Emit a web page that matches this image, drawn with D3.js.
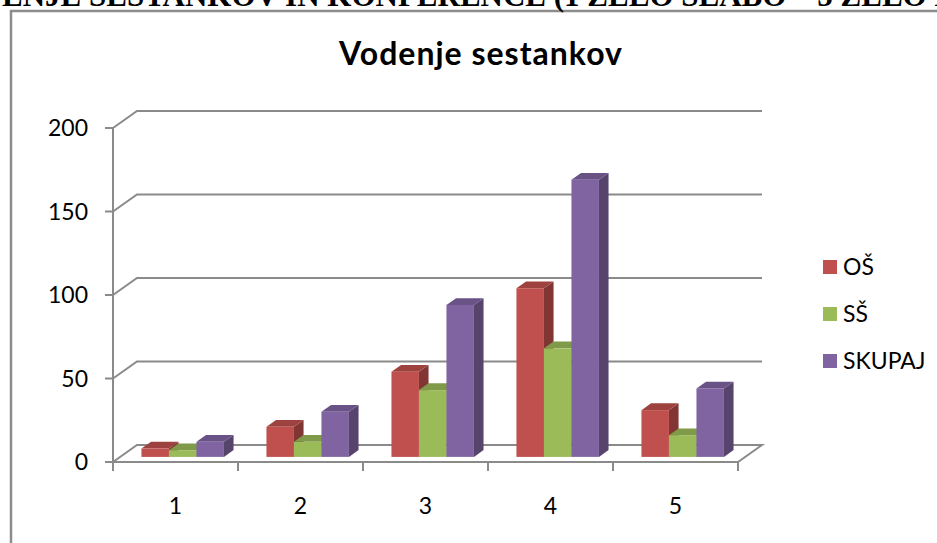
<!DOCTYPE html>
<html><head><meta charset="utf-8">
<script src="https://cdn.jsdelivr.net/npm/d3@7"></script>
<style>html,body{margin:0;padding:0;background:#fff;overflow:hidden}</style>
</head><body>
<svg id="c" width="937" height="543"></svg>
<script>
const pageHeading = "VODENJE SESTANKOV IN KONFERENCE (1 ZELO SLABO – 5 ZELO DOBRO)";
const title = "Vodenje sestankov";
const categories = ["1","2","3","4","5"];
const seriesNames = ["OŠ","SŠ","SKUPAJ"];
const valuesOS = [5, 18, 51, 101, 28];
const valuesSS = [4, 9, 40, 65, 13];
const valuesSkupaj = [9, 27, 91, 166, 41];
const yTicks = [0, 50, 100, 150, 200];
const colors = ["#C0504D", "#9BBB59", "#8064A2"];

const series = [valuesOS, valuesSS, valuesSkupaj];
const svg = d3.select("#c");
const font = "Lato, 'Open Sans', sans-serif";

// frame
svg.append("rect").attr("x",11).attr("y",11).attr("width",960).attr("height",560)
  .attr("fill","none").attr("stroke","#8c8c8c").attr("stroke-width",2.5);

// cut-off heading
const hs = 31;
const tmp = svg.append("text").attr("font-family","'Liberation Serif', serif").attr("font-weight","bold")
  .attr("font-size",hs).text("VOD");
const w0 = tmp.node().getComputedTextLength(); tmp.remove();
svg.append("text").attr("x",-w0+2).attr("y",6).attr("font-family","'Liberation Serif', serif")
  .attr("font-weight","bold").attr("font-size",hs).attr("fill","#000").text(pageHeading);

// geometry
const X0 = 113, X1 = 738;
const DX = 24, DY = -17;
const y = d3.scaleLinear().domain([0,200]).range([462,128]);
const x0 = d3.scaleBand().domain(categories).range([X0,X1]).padding(0);
const x1 = d3.scaleBand().domain(seriesNames).range([0,x0.bandwidth()]).paddingInner(0).paddingOuter(0.773);
const grid = "#8a8a8a";

const g = svg.append("g");
// gridlines (back wall + left wall)
yTicks.forEach(t=>{
  if(t===0) return;
  g.append("polyline").attr("points",`${X0},${y(t)} ${X0+DX},${y(t)+DY} ${X1+DX},${y(t)+DY}`)
    .attr("fill","none").attr("stroke",grid).attr("stroke-width",2);
});
// floor
g.append("polygon").attr("points",`${X0},${y(0)} ${X0+DX},${y(0)+DY} ${X1+DX},${y(0)+DY} ${X1},${y(0)}`)
  .attr("fill","none").attr("stroke",grid).attr("stroke-width",2);

// y axis
g.append("line").attr("x1",X0).attr("x2",X0).attr("y1",y(200)).attr("y2",y(0)).attr("stroke",grid).attr("stroke-width",2);
yTicks.forEach(t=>{
  g.append("line").attr("x1",X0-8).attr("x2",X0).attr("y1",y(t)).attr("y2",y(t)).attr("stroke",grid).attr("stroke-width",2);
  g.append("text").attr("x",88).attr("y",y(t)+8).attr("text-anchor","end")
    .attr("font-family",font).attr("font-size",23).attr("fill","#000").text(t);
});
// x axis ticks
d3.range(categories.length+1).forEach(i=>{
  const xx = X0 + i*x0.step();
  g.append("line").attr("x1",xx).attr("x2",xx).attr("y1",y(0)).attr("y2",y(0)+9).attr("stroke",grid).attr("stroke-width",2);
});
categories.forEach(c=>{
  g.append("text").attr("x",x0(c)+x0.bandwidth()/2).attr("y",514).attr("text-anchor","middle")
    .attr("font-family",font).attr("font-size",23).attr("fill","#000").text(c);
});

// bars
const f0 = 0.3, f1 = 0.7;
const ox = DX*f0, oy = DY*f0, bdx = DX*(f1-f0), bdy = DY*(f1-f0);
const bars = g.append("g");
categories.forEach((c,ci)=>{
  seriesNames.forEach((s,si)=>{
    const v = series[si][ci];
    const xl = x0(c)+x1(s)+ox, xr = xl + x1.bandwidth();
    const yb = y(0)+oy, yt = y(v)+oy;
    const col = d3.color(colors[si]);
    const topC = col.darker(0.55), sideC = col.darker(1.1);
    bars.append("polygon").attr("points",`${xr},${yb} ${xr+bdx},${yb+bdy} ${xr+bdx},${yt+bdy} ${xr},${yt}`).attr("fill",sideC);
    bars.append("polygon").attr("points",`${xl},${yt} ${xl+bdx},${yt+bdy} ${xr+bdx},${yt+bdy} ${xr},${yt}`).attr("fill",topC);
    bars.append("rect").attr("x",xl).attr("y",yt).attr("width",x1.bandwidth()).attr("height",yb-yt).attr("fill",col);
  });
});

// title
svg.append("text").attr("x",481).attr("y",65).attr("text-anchor","middle").attr("font-family",font)
  .attr("font-weight","bold").attr("font-size",32).attr("letter-spacing",1).attr("fill","#000").text(title);

// legend
seriesNames.forEach((s,i)=>{
  const cy = 267 + i*47;
  svg.append("rect").attr("x",823).attr("y",cy-7).attr("width",14).attr("height",14).attr("fill",colors[i]);
  svg.append("text").attr("x",843).attr("y",cy+8).attr("font-family",font).attr("font-size",23).attr("fill","#000").text(s);
});
</script>
</body></html>
